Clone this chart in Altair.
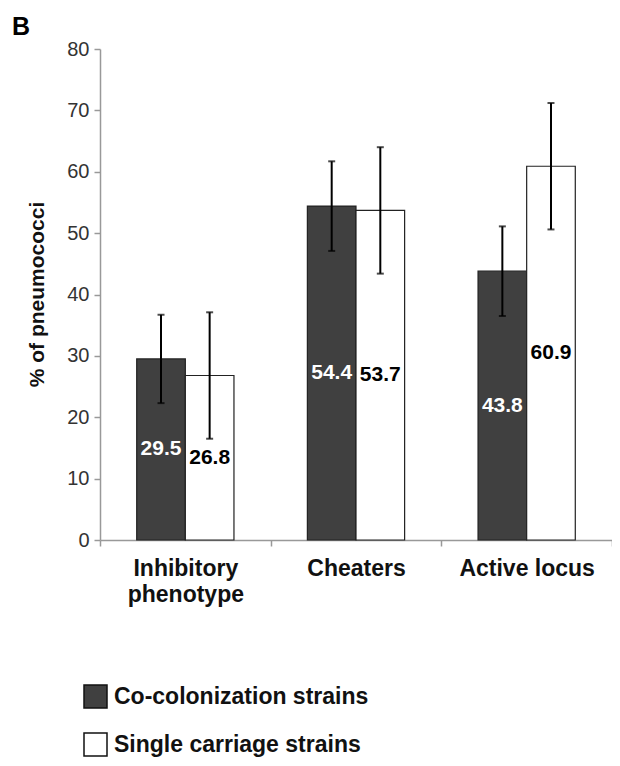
import altair as alt
import pandas as pd

categories = ["Inhibitory phenotype", "Cheaters", "Active locus"]
series = ["Co-colonization strains", "Single carriage strains"]
co_values = [29.5, 54.4, 43.8]
co_err = [7.2, 7.3, 7.3]
single_values = [26.8, 53.7, 60.9]
single_err = [10.3, 10.3, 10.3]
y_ticks = [0, 10, 20, 30, 40, 50, 60, 70, 80]

rows = []
for c, v, e in zip(categories, co_values, co_err):
    rows.append({"cat": c, "series": series[0], "value": v, "err": e})
for c, v, e in zip(categories, single_values, single_err):
    rows.append({"cat": c, "series": series[1], "value": v, "err": e})
df = pd.DataFrame(rows)

FONT = "Liberation Sans"

x_enc = alt.X(
    "cat:N",
    sort=categories,
    scale=alt.Scale(paddingInner=0, paddingOuter=0),
    axis=alt.Axis(
        title=None,
        labelAngle=0,
        labelFont=FONT,
        labelFontSize=23,
        labelFontWeight="bold",
        labelColor="#111",
        labelPadding=11,
        labelLineHeight=26,
        labelLimit=0,
        labelExpr="datum.label == 'Inhibitory phenotype' ? ['Inhibitory', 'phenotype'] : datum.label",
        tickBand="extent",
        tickSize=6,
        tickColor="#999",
        domainColor="#999",
        domainWidth=1.5,
        tickWidth=1.5,
    ),
)
xoff = alt.XOffset("series:N", sort=series, scale=alt.Scale(paddingOuter=0.755, paddingInner=0))

y_scale = alt.Scale(domain=[0, 80], nice=False)

base = alt.Chart(df)

bars = base.mark_bar(stroke="#222", strokeWidth=1.2).encode(
    x=x_enc,
    xOffset=xoff,
    y=alt.Y(
        "value:Q",
        scale=y_scale,
        axis=alt.Axis(
            values=y_ticks,
            title="% of pneumococci",
            titleFont=FONT,
            titleFontSize=21,
            titleFontWeight="bold",
            titleColor="#111",
            titleX=-63,
            titleY=245,
            titleBaseline="middle",
            titleAngle=-90,
            labelFont=FONT,
            labelFontSize=20,
            labelColor="#333",
            labelPadding=5,
            tickSize=6,
            tickColor="#999",
            domainColor="#999",
            domainWidth=1.5,
            tickWidth=1.5,
            grid=False,
        ),
    ),
    fill=alt.Fill(
        "series:N",
        sort=series,
        scale=alt.Scale(domain=series, range=["#404040", "#ffffff"]),
        legend=alt.Legend(
            title=None,
            orient="none",
            legendX=-17,
            legendY=635,
            symbolType="square",
            symbolSize=529,
            symbolStrokeColor="#111",
            symbolStrokeWidth=1.5,
            labelFont=FONT,
            labelFontSize=23,
            labelFontWeight="bold",
            labelColor="#111",
            labelOffset=6,
            labelLimit=0,
            rowPadding=19,
            padding=0,
        ),
    ),
)

err_df = base.transform_calculate(
    lo="datum.value - datum.err", hi="datum.value + datum.err"
)

rules = err_df.mark_rule(color="black", strokeWidth=2).encode(
    x=x_enc, xOffset=xoff, y=alt.Y("lo:Q", scale=y_scale), y2="hi:Q"
)
cap_hi = err_df.mark_tick(color="black", thickness=2, size=7).encode(
    x=x_enc, xOffset=xoff, y=alt.Y("hi:Q", scale=y_scale)
)
cap_lo = err_df.mark_tick(color="black", thickness=2, size=7).encode(
    x=x_enc, xOffset=xoff, y=alt.Y("lo:Q", scale=y_scale)
)

labels = base.transform_calculate(mid="datum.value / 2").mark_text(
    font=FONT, fontSize=21, fontWeight="bold", baseline="middle"
).encode(
    x=x_enc,
    xOffset=xoff,
    y=alt.Y("mid:Q", scale=y_scale),
    text=alt.Text("value:Q", format=".1f"),
    color=alt.condition(
        alt.datum.series == series[0], alt.value("white"), alt.value("black")
    ),
)

panel_letter = alt.Chart(pd.DataFrame({"t": ["B"]})).mark_text(
    font=FONT, fontSize=25, fontWeight="bold", align="left", baseline="alphabetic"
).encode(text="t:N", x=alt.value(-88), y=alt.value(-14))

chart = (
    alt.layer(bars, rules, cap_hi, cap_lo, labels, panel_letter)
    .properties(
        width=512,
        height=491,
        autosize=alt.AutoSizeParams(type="none"),
        padding={"left": 92, "top": 41, "right": 0, "bottom": 218},
    )
    .configure_view(stroke=None)
)

chart.save("out.html", embed_options={"renderer": "svg", "actions": False})
